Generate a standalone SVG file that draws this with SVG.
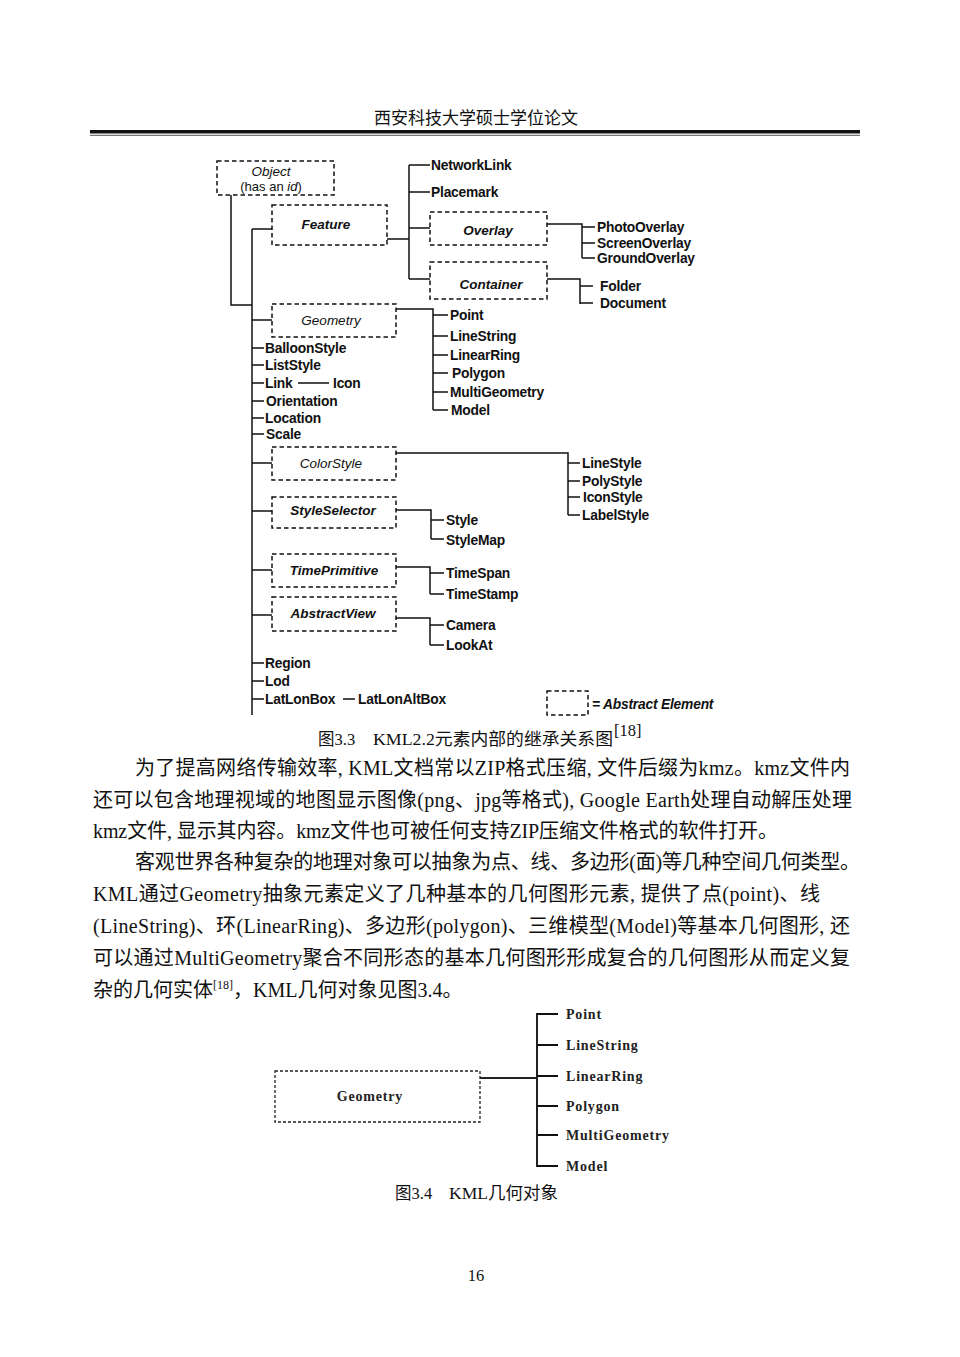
<svg xmlns="http://www.w3.org/2000/svg" width="960" height="1357" viewBox="0 0 960 1357">
<style>
.bg{fill:#ffffff}
.box{fill:none;stroke:#111;stroke-width:1.5;stroke-dasharray:4.5,3}
.box2{fill:none;stroke:#222;stroke-width:1.3;stroke-dasharray:3,2}
.ln{fill:none;stroke:#111;stroke-width:1.5}
.ln2{fill:none;stroke:#111;stroke-width:1.8}
.t{font-family:"Liberation Sans",Arial,sans-serif;font-size:13.8px;font-weight:bold;fill:#111;letter-spacing:-0.2px}
.bt{font-family:"Liberation Sans",Arial,sans-serif;font-size:13.5px;font-weight:bold;font-style:italic;fill:#111;text-anchor:middle}
.it{font-family:"Liberation Sans",Arial,sans-serif;font-size:13.5px;font-style:italic;fill:#111;text-anchor:middle}
.rg{font-family:"Liberation Sans",Arial,sans-serif;font-size:13px;fill:#111;text-anchor:middle}
.st{font-family:"Liberation Serif","Times New Roman",serif;font-size:14px;font-weight:bold;fill:#222;letter-spacing:0.8px}
.body{font-family:"Liberation Serif","Noto Sans CJK SC",serif;font-size:20px;fill:#111}
.cap{font-family:"Liberation Serif","Noto Sans CJK SC",serif;font-size:16.5px;fill:#111}
.hdr{font-family:"Noto Sans CJK SC",serif;font-size:17px;fill:#111;text-anchor:middle}
</style>
<rect class="bg" x="0" y="0" width="960" height="1357"/>

<g id="header">
<text class="hdr" x="476" y="124">西安科技大学硕士学位论文</text>
<rect x="90" y="130" width="770" height="3.5" fill="#111"/>
<rect x="90" y="134.8" width="770" height="1" fill="#555"/>
</g>

<g id="connectors">
<path class="ln" d="M231 195 V305 H252"/>
<path class="ln" d="M252 229 V715"/>
<path class="ln" d="M252 229 H272 M252 320 H272 M252 463 H272 M252 511 H272 M252 570 H272 M252 615 H272"/>
<path class="ln" d="M252 348 H264 M252 365 H264 M252 383 H264 M252 401 H264 M252 418 H264 M252 434 H264 M252 663 H264 M252 681 H264 M252 699 H264"/>
<path class="ln" d="M298 383 H329 M343 699 H355"/>
<path class="ln" d="M387 239 H409 M409 165 V279 M409 165 H430 M409 192 H430 M409 228 H430 M409 279 H430"/>
<path class="ln" d="M547 224 H582 V258 M582 227 H595 M582 243 H595 M582 258 H595"/>
<path class="ln" d="M547 279 H580 V304 M580 286 H593 M580 303 H593"/>
<path class="ln" d="M396 309 H433 V410 M433 315 H448 M433 336 H448 M433 355 H448 M433 373 H448 M433 392 H448 M433 410 H448"/>
<path class="ln" d="M396 453 H568 V515 M568 463 H580 M568 481 H580 M568 497 H580 M568 515 H580"/>
<path class="ln" d="M396 510 H431 V539 M431 520 H444 M431 539 H444"/>
<path class="ln" d="M396 567 H430 V594 M430 573 H444 M430 594 H444"/>
<path class="ln" d="M396 618 H430 V645 M430 625 H444 M430 645 H444"/>
<path fill="none" stroke="#222" stroke-width="2.2" d="M480 1078 H537"/>
<path fill="none" stroke="#222" stroke-width="2" d="M537 1013 V1167"/>
<path class="ln2" d="M537 1014 H558 M537 1045 H558 M537 1076 H558 M537 1106 H558 M537 1135 H558 M537 1166 H558"/>
</g>

<g id="node-object">
<rect class="box" x="217" y="161" width="117" height="34"/>
<text class="it" x="271" y="176">Object</text>
<text class="rg" x="271" y="191">(has an <tspan font-style="italic">id</tspan>)</text>
</g>
<g id="node-feature"><rect class="box" x="272" y="205" width="115" height="40"/><text class="bt" x="326" y="229">Feature</text></g>
<g id="node-overlay"><rect class="box" x="430" y="212" width="117" height="33"/><text class="bt" x="488" y="235">Overlay</text></g>
<g id="node-container"><rect class="box" x="430" y="262" width="117" height="37"/><text class="bt" x="491" y="289">Container</text></g>
<g id="node-geometry"><rect class="box" x="272" y="304" width="124" height="33"/><text class="it" x="331" y="325">Geometry</text></g>
<g id="node-colorstyle"><rect class="box" x="272" y="447" width="124" height="33"/><text class="it" x="331" y="468">ColorStyle</text></g>
<g id="node-styleselector"><rect class="box" x="272" y="497" width="124" height="31"/><text class="bt" x="333" y="515">StyleSelector</text></g>
<g id="node-timeprimitive"><rect class="box" x="272" y="554" width="124" height="33"/><text class="bt" x="334" y="575">TimePrimitive</text></g>
<g id="node-abstractview"><rect class="box" x="272" y="597" width="124" height="34"/><text class="bt" x="333" y="618">AbstractView</text></g>

<g id="leaves">
<text class="t" x="431" y="170">NetworkLink</text>
<text class="t" x="431" y="197">Placemark</text>
<text class="t" x="597" y="232">PhotoOverlay</text>
<text class="t" x="597" y="248">ScreenOverlay</text>
<text class="t" x="597" y="263">GroundOverlay</text>
<text class="t" x="600" y="291">Folder</text>
<text class="t" x="600" y="308">Document</text>
<text class="t" x="450" y="320">Point</text>
<text class="t" x="450" y="341">LineString</text>
<text class="t" x="450" y="360">LinearRing</text>
<text class="t" x="452" y="378">Polygon</text>
<text class="t" x="450" y="397">MultiGeometry</text>
<text class="t" x="451" y="415">Model</text>
<text class="t" x="265" y="353">BalloonStyle</text>
<text class="t" x="265" y="370">ListStyle</text>
<text class="t" x="265" y="388">Link</text>
<text class="t" x="333" y="388">Icon</text>
<text class="t" x="266" y="406">Orientation</text>
<text class="t" x="265" y="423">Location</text>
<text class="t" x="266" y="439">Scale</text>
<text class="t" x="582" y="468">LineStyle</text>
<text class="t" x="582" y="486">PolyStyle</text>
<text class="t" x="583" y="502">IconStyle</text>
<text class="t" x="582" y="520">LabelStyle</text>
<text class="t" x="446" y="525">Style</text>
<text class="t" x="446" y="545">StyleMap</text>
<text class="t" x="446" y="578">TimeSpan</text>
<text class="t" x="446" y="599">TimeStamp</text>
<text class="t" x="446" y="630">Camera</text>
<text class="t" x="446" y="650">LookAt</text>
<text class="t" x="265" y="668">Region</text>
<text class="t" x="265" y="686">Lod</text>
<text class="t" x="265" y="704">LatLonBox</text>
<text class="t" x="358" y="704">LatLonAltBox</text>
</g>

<g id="legend">
<rect class="box" x="547" y="691" width="41" height="24"/>
<text class="t" x="592" y="709" font-style="italic">= Abstract Element</text>
</g>

<g id="caption-3-3">
<text class="cap" x="318" y="745">图3.3</text>
<text class="cap" x="373" y="745" textLength="240" lengthAdjust="spacingAndGlyphs">KML2.2元素内部的继承关系图</text>
<text class="cap" x="614" y="736" font-size="11px">[18]</text>
</g>

<g id="body-text">
<text class="body" x="135" y="775" textLength="715" lengthAdjust="spacing">为了提高网络传输效率, KML文档常以ZIP格式压缩, 文件后缀为kmz。kmz文件内</text>
<text class="body" x="93" y="807" textLength="759" lengthAdjust="spacing">还可以包含地理视域的地图显示图像(png、jpg等格式), Google Earth处理自动解压处理</text>
<text class="body" x="93" y="838" textLength="685" lengthAdjust="spacing">kmz文件, 显示其内容。kmz文件也可被任何支持ZIP压缩文件格式的软件打开。</text>
<text class="body" x="135" y="869" textLength="725" lengthAdjust="spacing">客观世界各种复杂的地理对象可以抽象为点、线、多边形(面)等几种空间几何类型。</text>
<text class="body" x="93" y="901" textLength="727" lengthAdjust="spacing">KML通过Geometry抽象元素定义了几种基本的几何图形元素, 提供了点(point)、线</text>
<text class="body" x="93" y="933" textLength="757" lengthAdjust="spacing">(LineString)、环(LinearRing)、多边形(polygon)、三维模型(Model)等基本几何图形, 还</text>
<text class="body" x="93" y="965" textLength="757" lengthAdjust="spacing">可以通过MultiGeometry聚合不同形态的基本几何图形形成复合的几何图形从而定义复</text>
<text class="body" x="93" y="997">杂的几何实体<tspan font-size="12px" dy="-8">[18]</tspan><tspan dy="8">，KML几何对象见图3.4。</tspan></text>
</g>

<g id="node-geometry2">
<rect class="box2" x="275" y="1071" width="205" height="51"/>
<text class="st" x="370" y="1101" text-anchor="middle" font-size="13px">Geometry</text>
</g>
<g id="leaves2">
<text class="st" x="566" y="1019">Point</text>
<text class="st" x="566" y="1050">LineString</text>
<text class="st" x="566" y="1081">LinearRing</text>
<text class="st" x="566" y="1111">Polygon</text>
<text class="st" x="566" y="1140">MultiGeometry</text>
<text class="st" x="566" y="1171">Model</text>
</g>

<g id="caption-3-4">
<text class="cap" x="395" y="1199">图3.4</text>
<text class="cap" x="449" y="1199" textLength="109" lengthAdjust="spacingAndGlyphs">KML几何对象</text>
</g>

<g id="page-number">
<text class="cap" x="476" y="1281" text-anchor="middle" font-size="16px">16</text>
</g>
</svg>
